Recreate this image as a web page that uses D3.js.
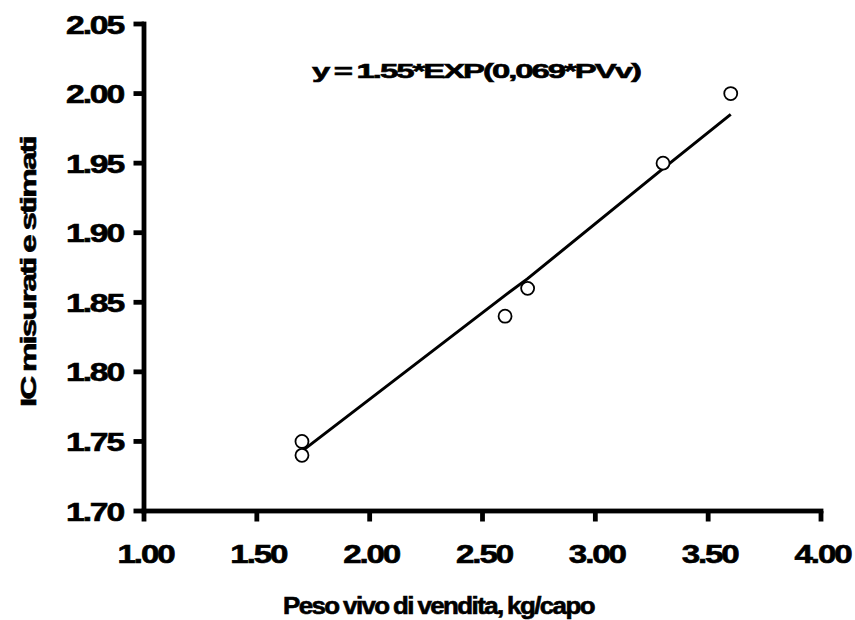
<!DOCTYPE html>
<html>
<head>
<meta charset="utf-8">
<script src="https://cdn.jsdelivr.net/npm/d3@7"></script>
<style>
  body { margin: 0; background: #fff; }
  text { font-family: "Liberation Sans", Arial, sans-serif; font-weight: bold; fill: #000; }
</style>
</head>
<body>
<div id="chart"></div>
<script>
// measured values (IC) by sale live weight
const PV = [1.7, 1.7, 2.6, 2.7, 3.3, 3.6];
const IC = [1.75, 1.74, 1.84, 1.86, 1.95, 2.00];
// fitted curve
const FIT_PV = [1.7, 2.6, 2.7, 3.3, 3.6];
const FIT_IC = [1.743, 1.855, 1.867, 1.946, 1.985];
const X_TICKS = [1.0, 1.5, 2.0, 2.5, 3.0, 3.5, 4.0];
const Y_TICKS = [1.70, 1.75, 1.80, 1.85, 1.90, 1.95, 2.00, 2.05];
const EQUATION = 'y = 1.55*EXP(0,069*PVv)';
const X_TITLE = 'Peso vivo di vendita, kg/capo';
const Y_TITLE = 'IC misurati e stimati';

const WIDTH = 855;
const HEIGHT = 620;
const AXIS_W = 4.8;
const TICK_LEN = 10.5;

let x = d3.scaleLinear().domain([1, 4]).range([144, 821]);
let y = d3.scaleLinear().domain([1.70, 2.05]).range([511, 24]);

let svg = d3.select('#chart').append('svg')
  .attr('width', WIDTH)
  .attr('height', HEIGHT);

let fmt = d3.format('.2f');

// the original text is wide, squat and tightly set: squeeze the spacing,
// then stretch the glyphs sideways to the measured width
let stretch = (sel, width, tx, ty, rot) => {
  sel.each(function () {
    let natural = this.getComputedTextLength();
    let k = natural > 0 ? width / natural : 1;
    d3.select(this)
      .attr('x', 0)
      .attr('y', 0)
      .attr('transform', `translate(${tx},${ty})` + (rot ? ` rotate(${rot})` : '') + ` scale(${k},1)`);
  });
};

// labels come from d3 axes; the heavy axis bars are drawn as filled rects
let xAxis = svg.append('g')
  .attr('transform', `translate(0,${y(1.70)})`)
  .call(d3.axisBottom(x).tickValues(X_TICKS).tickFormat(fmt).tickSize(0).tickSizeOuter(0));

let yAxis = svg.append('g')
  .attr('transform', `translate(${x(1)},0)`)
  .call(d3.axisLeft(y).tickValues(Y_TICKS).tickFormat(fmt).tickSize(0).tickSizeOuter(0));

[xAxis, yAxis].forEach((g) => {
  g.selectAll('path.domain').remove();
  g.selectAll('.tick line').remove();
  g.selectAll('.tick text')
    .attr('dy', null)
    .style('font-size', '25px')
    .style('letter-spacing', '-1.6px')
    .style('font-family', '"Liberation Sans", Arial, sans-serif')
    .style('font-weight', 'bold')
    .style('stroke', '#000')
    .style('stroke-width', '0.6px')
    .attr('fill', '#000');
});
xAxis.selectAll('.tick text').attr('text-anchor', 'middle')
  .call(stretch, 56, 1, 52);
yAxis.selectAll('.tick text').attr('text-anchor', 'end')
  .call(stretch, 57, -21, 9);

let bars = svg.append('g').attr('fill', '#000');

bars.append('rect')
  .attr('x', x(1) - AXIS_W / 2)
  .attr('y', y(1.70) - AXIS_W / 2)
  .attr('width', x(4) - x(1) + AXIS_W)
  .attr('height', AXIS_W);

bars.append('rect')
  .attr('x', x(1) - AXIS_W / 2)
  .attr('y', y(2.05) - AXIS_W / 2)
  .attr('width', AXIS_W)
  .attr('height', y(1.70) - y(2.05) + AXIS_W);

bars.selectAll('.xtick')
  .data(X_TICKS)
  .enter().append('rect')
  .attr('class', 'xtick')
  .attr('x', (d) => x(d) - AXIS_W / 2)
  .attr('y', y(1.70))
  .attr('width', AXIS_W)
  .attr('height', TICK_LEN);

bars.selectAll('.ytick')
  .data(Y_TICKS)
  .enter().append('rect')
  .attr('class', 'ytick')
  .attr('x', x(1) - TICK_LEN)
  .attr('y', (d) => y(d) - AXIS_W / 2)
  .attr('width', TICK_LEN)
  .attr('height', AXIS_W);

// fitted line
let line = d3.line()
  .x((d, i) => x(FIT_PV[i]))
  .y((d) => y(d));

svg.append('path')
  .datum(FIT_IC)
  .attr('d', line)
  .attr('fill', 'none')
  .attr('stroke', '#000')
  .attr('stroke-width', 3);

// measured points
svg.selectAll('.pt')
  .data(PV)
  .enter().append('circle')
  .attr('class', 'pt')
  .attr('cx', (d) => x(d))
  .attr('cy', (d, i) => y(IC[i]))
  .attr('r', 6.5)
  .attr('fill', '#fff')
  .attr('stroke', '#000')
  .attr('stroke-width', 1.8);

let label = (txt, size, spacing, width, tx, ty, rot) => {
  svg.append('text')
    .style('font-size', size + 'px')
    .style('letter-spacing', spacing + 'px')
    .style('word-spacing', '-1px')
    .style('stroke', '#000')
    .style('stroke-width', '0.6px')
    .text(txt)
    .call(stretch, width, tx, ty, rot);
};

label(EQUATION, 21, -1.3, 328, 312, 78);
label(X_TITLE, 23, -1.4, 311, 283, 614);
label(Y_TITLE, 22, -1.3, 270, 36, 407, -90);
</script>
</body>
</html>
